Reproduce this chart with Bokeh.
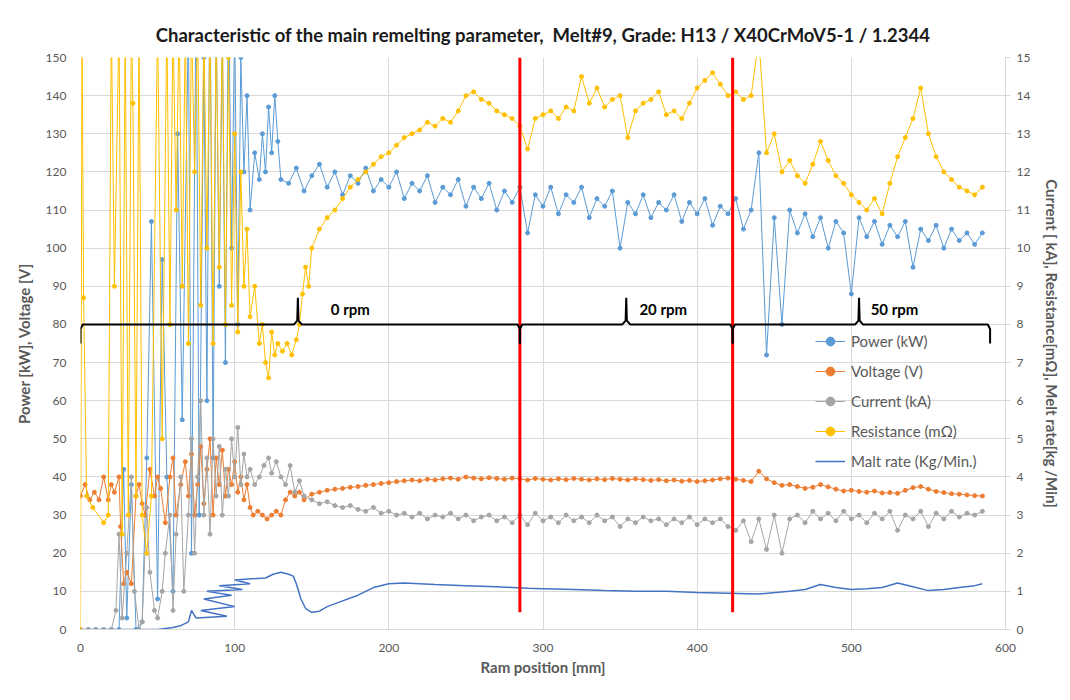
from bokeh.plotting import figure
from bokeh.models import Range1d, LinearAxis, FixedTicker, Legend, LegendItem
from bokeh.core.properties import value
from bokeh.embed import file_html
from bokeh.resources import INLINE

# ---------------- data ----------------
ram_grid = [150, 155, 160, 165, 170, 175, 180, 185, 190, 195, 200, 205, 210, 215, 220, 225, 230, 235,
            240, 245, 250, 255, 260, 265, 270, 275, 280, 285, 290, 295, 300, 305, 310, 315, 320, 325,
            330, 335, 340, 345, 350, 355, 360, 365, 370, 375, 380, 385, 390, 395, 400, 405, 410, 415,
            420, 425, 430, 435, 440, 445, 450, 455, 460, 465, 470, 475, 480, 485, 490, 495, 500, 505,
            510, 515, 520, 525, 530, 535, 540, 545, 550, 555, 560, 565, 570, 575, 580, 585]

power_x = [0, 5, 10, 15, 20, 25, 28, 30, 33, 36, 40, 43, 46, 50, 53, 56, 60, 63, 66, 70, 72, 75, 77, 80,
           82, 84, 86, 88, 90, 92, 94, 96, 98, 100, 102, 104, 106, 108, 110, 113, 116, 118, 120, 122,
           124, 126, 128, 130, 135, 140, 145] + ram_grid
power_y = [0, 0, 0, 0, 0, 0, 42, 3, 38, 0, 2, 45, 107, 8, 97, 40, 10, 130, 55, 160, 20, 170, 30, 150,
           60, 175, 45, 160, 90, 155, 70, 170, 100, 160, 80, 150, 120, 140, 110, 125, 118, 130, 120, 137,
           125, 140, 128, 118, 117, 121, 115,
           119, 122, 116, 120, 114, 119, 117, 121, 115, 118, 116, 120, 113, 117, 115, 119, 112, 116,
           114, 118, 111, 116, 113, 117, 110, 115, 112, 116, 104, 114, 111, 116, 109, 114, 112, 116,
           108, 113, 111, 115, 100, 112, 109, 114, 108, 112, 110, 114, 107, 112, 109, 113, 106, 111,
           109, 113, 105, 110, 125, 72, 108, 80, 110, 104, 109, 103, 108, 100, 107, 104, 88, 108,
           103, 107, 101, 106, 103, 107, 95, 105, 102, 106, 100, 105, 102, 104, 101, 104]

voltage_x = [0, 3, 6, 9, 12, 15, 18, 20, 22, 25, 26, 28, 30, 33, 36, 38, 40, 42, 45, 48, 50, 52, 55, 58,
             60, 62, 65, 68, 70, 72, 74, 76, 78, 80, 82, 84, 86, 88, 90, 92, 94, 96, 98, 100, 102, 104,
             106, 108, 110, 112, 115, 118, 121, 124, 127, 130, 133, 136, 139, 142, 145] + ram_grid
voltage_y = [35, 38, 34, 36, 34, 40, 34, 38, 36, 40, 27, 12, 15, 12, 35, 38, 33, 30, 42, 35, 40, 37, 28, 40,
             45, 30, 38, 44, 35, 46, 30, 38, 48, 33, 42, 50, 30, 45, 38, 47, 35, 42, 38, 44, 36, 40,
             34, 38, 32, 30, 31, 30, 29, 30, 31, 30, 34, 36, 35, 36, 34,
             35.5, 36, 36.5, 36.8, 37, 37.3, 37.5, 37.8, 38, 38.3,
             38.5, 38.8, 39, 39.2, 39, 39.4, 39.2, 39.5, 39.7, 39.4,
             40, 39.7, 39.5, 39.8, 39.6, 39.4, 39.7, 39.5, 39.2, 39.6,
             39.4, 39.2, 39.5, 39.3, 39.6, 39.4, 39.2, 39.5, 39.3, 39.6,
             39.4, 39.2, 39.5, 39.3, 39.1, 39.3, 39, 39.2, 38.9, 39.1,
             38.8, 39, 39.2, 39.5, 39.7, 39.4, 39.1, 38.8, 41.5, 39.5,
             38.5, 37.8, 38, 37.5, 37, 37.3, 38, 37.4, 36.8, 36.3,
             36.5, 36.2, 36, 36.3, 35.8, 35.9, 35.7, 36.5, 37.2, 37.5,
             36.8, 36.2, 35.9, 35.6, 35.5, 35.3, 35.1, 35]

current_x = [0, 5, 10, 15, 20, 23, 25, 27, 30, 33, 35, 38, 40, 43, 45, 48, 50, 53, 55, 58, 60, 62, 65, 67,
             70, 72, 74, 76, 78, 80, 82, 84, 86, 88, 90, 92, 94, 96, 98, 100, 102, 104, 106, 108, 110,
             113, 116, 119, 122, 124, 127, 130, 133, 136, 139, 142, 145] + ram_grid
current_y = [0, 0, 0, 0, 0, 0.5, 2.5, 0.3, 2.0, 4.0, 1.0, 0, 0.2, 3.2, 1.5, 0.5, 0.3, 1.0, 2.0, 3.0, 0.5,
             2.5, 4.0, 1.0, 3.0, 5.0, 2.0, 4.0, 6.0, 3.0, 4.5, 2.5, 5.0, 3.5, 4.8, 3.0, 4.2, 3.5, 5.0,
             4.0, 5.3, 3.8, 4.6, 4.0, 4.2, 3.8, 4.0, 4.3, 4.5, 4.1, 4.4, 4.0, 3.8, 4.3, 3.6, 3.9, 3.5,
             3.4, 3.3, 3.35, 3.25, 3.2, 3.25, 3.15, 3.1, 3.2, 3.05,
             3.1, 3.0, 3.05, 2.95, 3.05, 2.9, 3.0, 2.95, 3.05, 2.9,
             3.0, 2.85, 2.95, 3.0, 2.85, 2.95, 2.8, 3.0, 2.75, 3.05,
             2.85, 2.95, 2.8, 3.0, 2.85, 2.95, 2.8, 3.0, 2.85, 2.95,
             2.7, 2.9, 2.8, 2.95, 2.85, 2.9, 2.75, 2.9, 2.8, 2.95,
             2.75, 2.9, 2.8, 2.9, 2.7, 2.6, 2.85, 2.3, 2.9, 2.1,
             3.0, 2.0, 2.9, 3.0, 2.8, 3.1, 2.9, 3.05, 2.85, 3.1,
             2.9, 3.0, 2.8, 3.05, 2.9, 3.1, 2.6, 3.0, 2.9, 3.1,
             2.7, 3.05, 2.9, 3.1, 2.95, 3.05, 3.0, 3.1]

resistance_x = [0, 1, 2, 4, 8, 15, 18, 20, 22, 25, 27, 29, 31, 33, 34, 36, 38, 40, 43, 46, 50, 53, 56,
                58, 60, 62, 64, 66, 68, 70, 72, 74, 76, 78, 80, 82, 84, 86, 88, 90, 92, 94, 96, 98, 100,
                102, 104, 106, 108, 110, 113, 116, 118, 120, 122, 124, 126, 128, 131, 134, 137, 140,
                142, 144, 146, 148] + ram_grid
resistance_y = [0, 16, 8.7, 3.5, 3.2, 2.8, 3.0, 16, 9.0, 16, 2.5, 16, 3.0, 16, 13.8, 3.5, 16, 3.0, 2.0,
                3.5, 16, 5.0, 16, 8.0, 16, 11.0, 16, 9.0, 16, 7.5, 16, 12.0, 16, 8.5, 16, 10.0, 16, 7.5,
                16, 9.5, 16, 8.0, 15.0, 8.5, 13.0, 7.8, 12.0, 9.0, 10.5, 8.2, 9.0, 7.5, 8.0, 7.0, 6.6,
                7.8, 7.2, 7.5, 7.3, 7.5, 7.2, 7.6, 8.0, 8.8, 9.5, 9.0,
                10.0, 10.5, 10.8, 11.0, 11.3, 11.6, 11.8, 12.0, 12.2, 12.4,
                12.5, 12.7, 12.9, 13.0, 13.1, 13.3, 13.2, 13.4, 13.3, 13.6,
                14.0, 14.1, 13.9, 13.8, 13.6, 13.5, 13.4, 13.2, 12.6, 13.4,
                13.5, 13.6, 13.4, 13.7, 13.6, 14.5, 13.8, 14.2, 13.7, 13.9,
                14.0, 12.9, 13.6, 13.8, 13.9, 14.1, 13.5, 13.6, 13.4, 13.8,
                14.2, 14.4, 14.6, 14.3, 14.0, 14.1, 13.9, 14.0, 15.5, 12.5,
                13.0, 12.0, 12.3, 11.9, 11.7, 12.2, 12.8, 12.3, 11.9, 11.7,
                11.4, 11.2, 11.0, 11.3, 10.9, 11.7, 12.4, 12.9, 13.4, 14.2,
                13.0, 12.4, 12.0, 11.8, 11.6, 11.5, 11.4, 11.6]

melt_x = [0, 10, 20, 30, 40, 50, 60, 65, 70, 72, 75, 95, 78, 100, 80, 98, 82, 105, 90, 110, 100, 120,
          125, 130, 135, 138, 140, 143, 146, 150, 155, 160, 170, 180, 190, 200, 210, 220, 230, 250,
          270, 290, 300, 320, 340, 360, 380, 400, 420, 440, 460, 470, 480, 490, 500, 510, 520, 530,
          540, 550, 560, 570, 580, 585]
melt_y = [0, 0, 0, 0, 0, 0, 0.05, 0.1, 0.2, 0.5, 0.3, 0.35, 0.5, 0.6, 0.8, 0.9, 1.0, 1.05, 1.15, 1.2,
          1.3, 1.35, 1.45, 1.5, 1.45, 1.4, 1.2, 0.8, 0.55, 0.45, 0.48, 0.6, 0.75, 0.9, 1.1, 1.2, 1.22,
          1.2, 1.18, 1.15, 1.12, 1.08, 1.07, 1.05, 1.02, 1.0, 1.0, 0.97, 0.95, 0.93, 1.0, 1.05, 1.18,
          1.1, 1.05, 1.07, 1.1, 1.22, 1.12, 1.02, 1.05, 1.1, 1.15, 1.2]

# rotation-speed segments (ram position in mm)
seg_start = [0, 285, 423]
seg_end = [285, 423, 590]
seg_peak = [141, 354, 505]
seg_label = ["0 rpm", "20 rpm", "50 rpm"]
seg_label_x = [175, 378, 528]
change_x = [285, 423]

series_names = ["Power (kW)", "Voltage (V)", "Current (kA)", "Resistance (m\u03a9)", "Malt rate (Kg/Min.)"]
x_ticks = [0, 100, 200, 300, 400, 500, 600]
left_ticks = [0, 10, 20, 30, 40, 50, 60, 70, 80, 90, 100, 110, 120, 130, 140, 150]
right_ticks = [0, 1, 2, 3, 4, 5, 6, 7, 8, 9, 10, 11, 12, 13, 14, 15]

TITLE = "Characteristic of the main remelting parameter,\u00a0 Melt#9, Grade: H13 / X40CrMoV5-1 / 1.2344"

# ---------------- styling ----------------
FONT = "Lato"
TXT = "#595959"
GRID = "#D9D9D9"
C_POW, C_VOL, C_CUR, C_RES, C_MELT = "#5B9BD5", "#ED7D31", "#A5A5A5", "#FFC000", "#4472C4"

p = figure(width=1070, height=700, output_backend="svg", toolbar_location=None,
           x_range=Range1d(0, 600), y_range=Range1d(0, 150),
           min_border_left=80, min_border_right=65, min_border_top=57, min_border_bottom=71)
p.extra_y_ranges = {"right": Range1d(0, 15)}
p.outline_line_color = None
p.background_fill_color = "white"

p.title.text = TITLE
p.title.align = "center"
p.title.text_font = FONT
p.title.text_font_size = "18.5px"
p.title.text_font_style = "bold"
p.title.text_color = "#1a1a1a"
p.title.standoff = 24

# axes
xa = p.xaxis[0]
xa.ticker = FixedTicker(ticks=x_ticks)
xa.axis_label = "Ram position [mm]"
xa.axis_line_color = GRID
xa.major_tick_line_color = None
xa.minor_tick_line_color = None
xa.major_label_text_font = FONT
xa.major_label_text_font_size = "12px"
xa.major_label_text_color = TXT
xa.axis_label_text_font = FONT
xa.axis_label_text_font_size = "15px"
xa.axis_label_text_font_style = "bold"
xa.axis_label_text_color = TXT
xa.major_label_standoff = 8
xa.axis_label_standoff = 3

ya = p.yaxis[0]
ya.ticker = FixedTicker(ticks=left_ticks)
ya.axis_label = "Power [kW], Voltage [V]"
ya.axis_line_color = None
ya.major_tick_line_color = None
ya.minor_tick_line_color = None
ya.major_label_text_font = FONT
ya.major_label_text_font_size = "12px"
ya.major_label_text_color = TXT
ya.axis_label_text_font = FONT
ya.axis_label_text_font_size = "15px"
ya.axis_label_text_font_style = "bold"
ya.axis_label_text_color = TXT
ya.major_label_standoff = 8
ya.axis_label_standoff = 10

ra = LinearAxis(y_range_name="right", ticker=FixedTicker(ticks=right_ticks),
                axis_label="Current [ kA], Resistance[m\u03a9], Melt rate[kg /Min]")
ra.axis_line_color = GRID
ra.major_tick_line_color = GRID
ra.major_tick_out = 5
ra.major_tick_in = 0
ra.minor_tick_line_color = None
ra.major_label_text_font = FONT
ra.major_label_text_font_size = "12px"
ra.major_label_text_color = TXT
ra.axis_label_text_font = FONT
ra.axis_label_text_font_size = "15px"
ra.axis_label_text_font_style = "bold"
ra.axis_label_text_color = TXT
ra.major_label_standoff = 6
ra.axis_label_standoff = 10
p.add_layout(ra, "right")

p.xgrid.ticker = FixedTicker(ticks=x_ticks)
p.ygrid.ticker = FixedTicker(ticks=left_ticks)
p.xgrid.grid_line_color = GRID
p.ygrid.grid_line_color = GRID

# series
items = []
l = p.line(power_x, power_y, color=C_POW, line_width=1)
s = p.scatter(power_x, power_y, color=C_POW, size=4)
items.append(LegendItem(label=series_names[0], renderers=[l, s]))

l = p.line(voltage_x, voltage_y, color=C_VOL, line_width=1)
s = p.scatter(voltage_x, voltage_y, color=C_VOL, size=4)
items.append(LegendItem(label=series_names[1], renderers=[l, s]))

l = p.line(current_x, current_y, color=C_CUR, line_width=1, y_range_name="right")
s = p.scatter(current_x, current_y, color=C_CUR, size=4, y_range_name="right")
items.append(LegendItem(label=series_names[2], renderers=[l, s]))

l = p.line(resistance_x, resistance_y, color=C_RES, line_width=1, y_range_name="right")
s = p.scatter(resistance_x, resistance_y, color=C_RES, size=4, y_range_name="right")
items.append(LegendItem(label=series_names[3], renderers=[l, s]))

l = p.line(melt_x, melt_y, color=C_MELT, line_width=1.5, y_range_name="right")
items.append(LegendItem(label=series_names[4], renderers=[l]))

# red change markers
p.segment(x0=change_x, y0=[4.5] * len(change_x), x1=change_x, y1=[150] * len(change_x),
          color="#FF0000", line_width=3)

# braces
BASE, HOOK, TIP = 80, 75, 87
for s0, e0, pk in zip(seg_start, seg_end, seg_peak):
    bx = [s0, s0, s0 + 1.5, pk - 2.5, pk - 0.4, pk, pk + 0.4, pk + 2.5, e0 - 1.5, e0, e0]
    by = [HOOK, BASE - 1.2, BASE, BASE, BASE + 1, TIP, BASE + 1, BASE, BASE, BASE - 1.2, HOOK]
    p.line(bx, by, color="black", line_width=2)

p.text(x=seg_label_x, y=[84] * len(seg_label_x), text=seg_label, text_align="center",
       text_baseline="middle", text_font=value(FONT), text_font_size="15px",
       text_font_style="bold", text_color="black")

legend = Legend(items=items, location=(735, 157), background_fill_alpha=0, border_line_alpha=0,
                label_text_font=FONT, label_text_font_size="15px", label_text_color=TXT,
                glyph_width=30, glyph_height=22, label_height=22, spacing=8, padding=0, margin=0,
                label_standoff=6)
p.add_layout(legend)

open("out.html", "w").write(file_html(p, INLINE))
